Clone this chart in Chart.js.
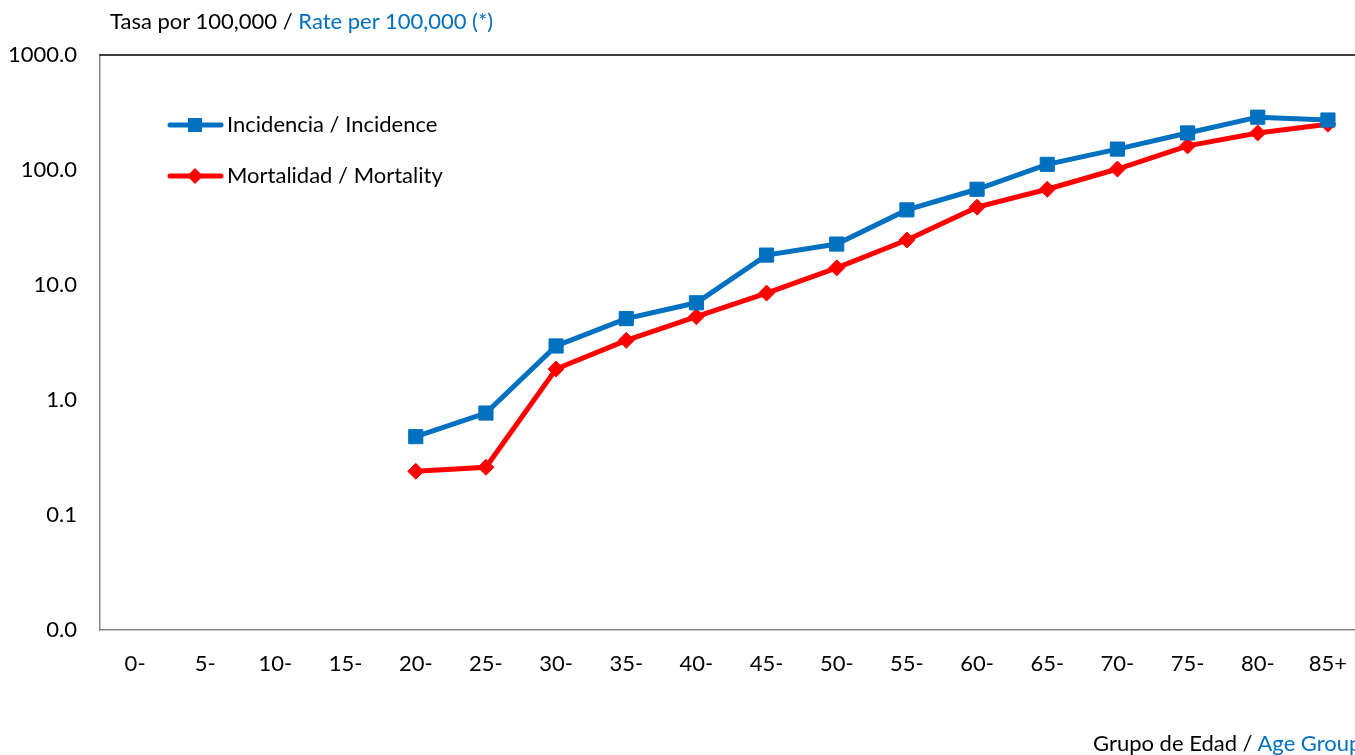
<!DOCTYPE html>
<html>
<head>
<meta charset="utf-8">
<script src="https://cdn.jsdelivr.net/npm/chart.js@4/dist/chart.umd.min.js"></script>
<style>
  html, body { margin: 0; padding: 0; background: #fff; overflow: hidden; }
  #wrap { position: relative; width: 1374px; height: 755px; overflow: hidden; }
  canvas { position: absolute; left: 0; top: 0; width: 1374px; height: 755px; }
  .t { position: absolute; font-family: Lato, "Open Sans", sans-serif; font-size: 22px; color: #000; white-space: nowrap; }
  .b { color: #0070C0; }
</style>
</head>
<body>
<div id="wrap">
  <canvas id="c" width="1374" height="755"></canvas>
  <div class="t" id="ytitle" style="left:110px; top:7px;">Tasa por 100,000 / <span class="b">Rate per 100,000 (*)</span></div>
  <div class="t" id="xtitle" style="left:1093px; top:729px;">Grupo de Edad / <span class="b">Age Group</span></div>
</div>
<script>
const categories = ["0-","5-","10-","15-","20-","25-","30-","35-","40-","45-","50-","55-","60-","65-","70-","75-","80-","85+"];
const incidence = [null,null,null,null,0.48,0.77,2.95,5.1,7.0,18.2,22.7,45,68,112,152,210,288,272];
const mortality = [null,null,null,null,0.24,0.26,1.86,3.3,5.3,8.5,14.1,24.6,47.5,68,102,162,210,250];
const yTicks = [0.01,0.1,1,10,100,1000];
const seriesNames = ["Incidencia / Incidence","Mortalidad / Mortality"];
const colors = ["#0070C0","#FF0000"];

const FONT = 'Lato, "Open Sans", sans-serif';

const legendPlugin = {
  id: 'customLegend',
  afterDraw(chart) {
    const ctx = chart.ctx;
    const items = [
      {name: seriesNames[0], color: colors[0], style: 'rect', y: 125},
      {name: seriesNames[1], color: colors[1], style: 'rectRot', y: 176}
    ];
    ctx.save();
    items.forEach(it => {
      ctx.strokeStyle = it.color;
      ctx.lineWidth = 5;
      ctx.lineCap = 'round';
      ctx.beginPath();
      ctx.moveTo(170, it.y);
      ctx.lineTo(221, it.y);
      ctx.stroke();
      ctx.fillStyle = it.color;
      ctx.beginPath();
      if (it.style === 'rect') {
        ctx.rect(195 - 7, it.y - 7, 14, 14);
      } else {
        ctx.moveTo(195, it.y - 8); ctx.lineTo(203, it.y); ctx.lineTo(195, it.y + 8); ctx.lineTo(187, it.y); ctx.closePath();
      }
      ctx.fill();
      ctx.fillStyle = '#000';
      ctx.font = '22px ' + FONT;
      ctx.textBaseline = 'middle';
      ctx.textAlign = 'left';
      ctx.fillText(it.name, 227, it.y);
    });
    const a = chart.chartArea;
    ctx.strokeStyle = '#000';
    ctx.lineWidth = 1.5;
    ctx.beginPath();
    ctx.moveTo(a.left, a.top);
    ctx.lineTo(a.right, a.top);
    ctx.stroke();
    ctx.restore();
  }
};

new Chart(document.getElementById('c'), {
  type: 'line',
  data: {
    labels: categories,
    datasets: [
      {
        label: seriesNames[0], data: incidence,
        borderColor: colors[0], backgroundColor: colors[0],
        borderWidth: 5, pointStyle: 'rect', pointRadius: 10, pointBorderWidth: 1,
        pointHoverRadius: 10, tension: 0, spanGaps: false
      },
      {
        label: seriesNames[1], data: mortality,
        borderColor: colors[1], backgroundColor: colors[1],
        borderWidth: 5, pointStyle: 'rectRot', pointRadius: 8, pointBorderWidth: 1,
        pointHoverRadius: 8, tension: 0, spanGaps: false
      }
    ]
  },
  options: {
    responsive: false,
    maintainAspectRatio: false,
    animation: false,
    devicePixelRatio: 1,
    layout: { padding: { top: 55, left: 0, right: 0, bottom: 0 } },
    plugins: { legend: { display: false }, tooltip: { enabled: false } },
    scales: {
      x: {
        offset: true,
        grid: { display: false, drawTicks: false },
        border: { display: true, color: '#868686', width: 1.5 },
        ticks: { color: '#000', font: { family: FONT, size: 22 }, padding: 21, maxRotation: 0, autoSkip: false },
        afterFit(s) { s.height = 125; }
      },
      y: {
        type: 'logarithmic',
        min: 0.01, max: 1000,
        grid: { display: false, drawTicks: false },
        border: { display: true, color: '#868686', width: 1.5 },
        ticks: {
          color: '#000', font: { family: FONT, size: 22 }, padding: 23,
          callback: v => Number(v).toFixed(1)
        },
        afterBuildTicks(s) { s.ticks = yTicks.map(v => ({ value: v })); },
        afterFit(s) { s.width = 100; }
      }
    }
  },
  plugins: [legendPlugin]
});
</script>
</body>
</html>
